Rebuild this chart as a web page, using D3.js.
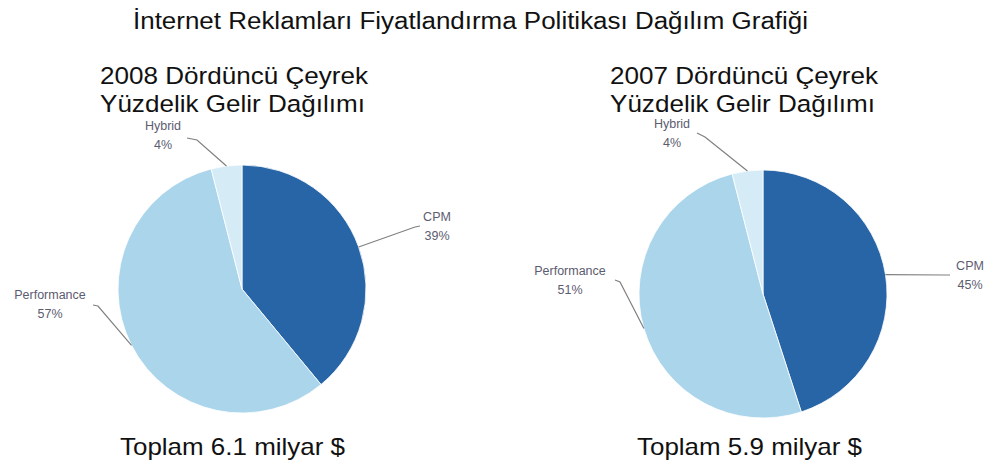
<!DOCTYPE html>
<html>
<head>
<meta charset="utf-8">
<script src="https://cdn.jsdelivr.net/npm/d3@7"></script>
<style>
  body { margin: 0; background: #fff; }
  text { font-family: "Liberation Sans", Arial, Helvetica, sans-serif; }
</style>
</head>
<body>
<div id="chart"></div>
<script>
//////////////////////
//  main constants  //
//////////////////////
const WIDTH = 995;
const HEIGHT = 462;

const chartTitle = "İnternet Reklamları Fiyatlandırma Politikası Dağılım Grafiği";
const categories = ["CPM", "Performance", "Hybrid"];
const years = ["2008", "2007"];
const share2008 = [39, 57, 4];
const share2007 = [45, 51, 4];
const totals = ["6.1", "5.9"];

const COLORS = ["#2865a7", "#abd5eb", "#d5ebf5"];

// layout of each pie (center, radius, where the labels sit relative to center)
const PIES = [
    {
        cx: 242, cy: 289, r: 124, headX: 100, totalX: 120,
        labels: [
            { tx: 195, ty: -68, elbow: [173, -62], end: [178, -63] },
            { tx: -192, ty: 10, elbow: [-144, 17], end: [-149, 16] },
            { tx: -79, ty: -159, elbow: [-45, -149], end: [-55, -151] }
        ]
    },
    {
        cx: 763, cy: 294, r: 124, headX: 610, totalX: 637,
        labels: [
            { tx: 207, ty: -24, elbow: [182, -19], end: [187, -19] },
            { tx: -193, ty: -19, elbow: [-143, -12], end: [-148, -14] },
            { tx: -91, ty: -166, elbow: [-58, -157], end: [-66, -161] }
        ]
    }
];

const SVG = d3.select('#chart').append('svg')
    .attr('width', WIDTH)
    .attr('height', HEIGHT);

/////////////
//  title  //
/////////////
SVG.append("text")
    .attr("x", 133)
    .attr("y", 29)
    .attr("font-size", 23)
    .attr("fill", "#111")
    .attr("textLength", 675)
    .attr("lengthAdjust", "spacingAndGlyphs")
    .text(chartTitle);

/////////////////
//  main code  //
/////////////////
const pie = d3.pie().sort(null).value(d => d);
const shares = [share2008, share2007];

shares.forEach((values, i) => {
    const P = PIES[i];
    const arc = d3.arc().innerRadius(0).outerRadius(P.r);
    const edge = d3.arc().innerRadius(P.r).outerRadius(P.r);
    const arcs = pie(values);

    // headings
    const head = SVG.append("text")
        .attr("x", P.headX)
        .attr("font-size", 24.5)
        .attr("fill", "#111");
    head.append("tspan").attr("x", P.headX).attr("y", 84)
        .attr("textLength", 268).attr("lengthAdjust", "spacingAndGlyphs")
        .text(`${years[i]} Dördüncü Çeyrek`);
    head.append("tspan").attr("x", P.headX).attr("y", 112)
        .attr("textLength", 265).attr("lengthAdjust", "spacingAndGlyphs")
        .text("Yüzdelik Gelir Dağılımı");

    const g = SVG.append("g")
        .attr("transform", `translate(${P.cx}, ${P.cy})`);

    g.selectAll("path.slice")
        .data(arcs)
        .join("path")
        .attr("class", "slice")
        .attr("d", arc)
        .attr("fill", (d, j) => COLORS[j])
        .attr("stroke", "#fff")
        .attr("stroke-width", 0.8);

    // leader lines
    g.selectAll("polyline")
        .data(arcs)
        .join("polyline")
        .attr("points", (d, j) => {
            const L = P.labels[j];
            return [edge.centroid(d), L.elbow, L.end].map(p => p.join(",")).join(" ");
        })
        .attr("fill", "none")
        .attr("stroke", "#808080")
        .attr("stroke-width", 1.2);

    // labels
    const lab = g.selectAll("text.lab")
        .data(arcs)
        .join("text")
        .attr("class", "lab")
        .attr("text-anchor", "middle")
        .attr("font-size", 12.5)
        .attr("fill", "#5c5c70");
    lab.append("tspan")
        .attr("x", (d, j) => P.labels[j].tx)
        .attr("y", (d, j) => P.labels[j].ty)
        .text((d, j) => categories[j]);
    lab.append("tspan")
        .attr("x", (d, j) => P.labels[j].tx)
        .attr("y", (d, j) => P.labels[j].ty + 19)
        .text(d => `${d.data}%`);

    // total
    SVG.append("text")
        .attr("x", P.totalX)
        .attr("y", 455)
        .attr("font-size", 24)
        .attr("fill", "#111")
        .attr("textLength", 225)
        .attr("lengthAdjust", "spacingAndGlyphs")
        .text(`Toplam ${totals[i]} milyar $`);
});
</script>
</body>
</html>
